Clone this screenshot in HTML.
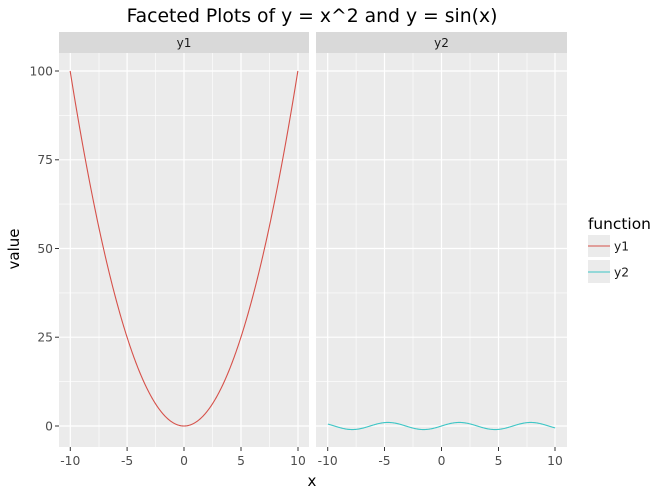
<!DOCTYPE html>
<html><head><meta charset="utf-8"><style>body{margin:0;background:#fff}svg{display:block}text{font-family:"DejaVu Sans","Liberation Sans",sans-serif}</style></head><body>
<svg width="660" height="495" xmlns="http://www.w3.org/2000/svg">
<text x="312" y="22" font-size="18.8" text-anchor="middle" fill="#000">Faceted Plots of y = x^2 and y = sin(x)</text>
<g id="p1">
<rect x="59" y="32" width="250" height="21" fill="#d9d9d9"/>
<text x="184" y="47" font-size="12" text-anchor="middle" fill="#1a1a1a">y1</text>
<rect x="59" y="53" width="250" height="394" fill="#ebebeb"/>
<g stroke="#fff" stroke-width="0.6">
<line x1="59" x2="309" y1="115.4" y2="115.4"/><line x1="59" x2="309" y1="204.1" y2="204.1"/><line x1="59" x2="309" y1="292.9" y2="292.9"/><line x1="59" x2="309" y1="381.6" y2="381.6"/>
<line y1="53" y2="447" x1="99" x2="99"/><line y1="53" y2="447" x1="155.5" x2="155.5"/><line y1="53" y2="447" x1="212.5" x2="212.5"/><line y1="53" y2="447" x1="269.5" x2="269.5"/>
</g>
<g stroke="#fff" stroke-width="1.2">
<line x1="59" x2="309" y1="71" y2="71"/><line x1="59" x2="309" y1="159.8" y2="159.8"/><line x1="59" x2="309" y1="248.5" y2="248.5"/><line x1="59" x2="309" y1="337.2" y2="337.2"/><line x1="59" x2="309" y1="426" y2="426"/>
<line y1="53" y2="447" x1="70.3" x2="70.3"/><line y1="53" y2="447" x1="127.1" x2="127.1"/><line y1="53" y2="447" x1="184" x2="184"/><line y1="53" y2="447" x1="241" x2="241"/><line y1="53" y2="447" x1="298" x2="298"/>
</g>
<path id="par" fill="none" stroke="#d6514a" stroke-width="1.1"/>
</g>
<g>
<rect x="316" y="32" width="251" height="21" fill="#d9d9d9"/>
<text x="441.5" y="47" font-size="12" text-anchor="middle" fill="#1a1a1a">y2</text>
<rect x="316" y="53" width="251" height="394" fill="#ebebeb"/>
<g stroke="#fff" stroke-width="0.6">
<line x1="316" x2="567" y1="115.4" y2="115.4"/><line x1="316" x2="567" y1="204.1" y2="204.1"/><line x1="316" x2="567" y1="292.9" y2="292.9"/><line x1="316" x2="567" y1="381.6" y2="381.6"/>
<line y1="53" y2="447" x1="356.1" x2="356.1"/><line y1="53" y2="447" x1="413" x2="413"/><line y1="53" y2="447" x1="470" x2="470"/><line y1="53" y2="447" x1="527" x2="527"/>
</g>
<g stroke="#fff" stroke-width="1.2">
<line x1="316" x2="567" y1="71" y2="71"/><line x1="316" x2="567" y1="159.8" y2="159.8"/><line x1="316" x2="567" y1="248.5" y2="248.5"/><line x1="316" x2="567" y1="337.2" y2="337.2"/><line x1="316" x2="567" y1="426" y2="426"/>
<line y1="53" y2="447" x1="327.7" x2="327.7"/><line y1="53" y2="447" x1="384.5" x2="384.5"/><line y1="53" y2="447" x1="441.5" x2="441.5"/><line y1="53" y2="447" x1="498.5" x2="498.5"/><line y1="53" y2="447" x1="555" x2="555"/>
</g>
<path id="sin" fill="none" stroke="#3ec6c6" stroke-width="1.1"/>
</g>
<g stroke="#333" stroke-width="1">
<line x1="55" x2="59" y1="71" y2="71"/><line x1="55" x2="59" y1="159.8" y2="159.8"/><line x1="55" x2="59" y1="248.5" y2="248.5"/><line x1="55" x2="59" y1="337.2" y2="337.2"/><line x1="55" x2="59" y1="426" y2="426"/>
<line y1="447" y2="451" x1="70.3" x2="70.3"/><line y1="447" y2="451" x1="127.1" x2="127.1"/><line y1="447" y2="451" x1="184" x2="184"/><line y1="447" y2="451" x1="241" x2="241"/><line y1="447" y2="451" x1="298" x2="298"/>
<line y1="447" y2="451" x1="327.7" x2="327.7"/><line y1="447" y2="451" x1="384.5" x2="384.5"/><line y1="447" y2="451" x1="441.5" x2="441.5"/><line y1="447" y2="451" x1="498.5" x2="498.5"/><line y1="447" y2="451" x1="555" x2="555"/>
</g>
<g font-size="12.3" fill="#4d4d4d" text-anchor="end">
<text x="53" y="75.5">100</text><text x="53" y="164">75</text><text x="53" y="253">50</text><text x="53" y="341.5">25</text><text x="53" y="430.5">0</text>
</g>
<g font-size="12.3" fill="#4d4d4d" text-anchor="middle">
<text x="70.3" y="465">-10</text><text x="127.1" y="465">-5</text><text x="184" y="465">0</text><text x="241" y="465">5</text><text x="298" y="465">10</text>
<text x="327.7" y="465">-10</text><text x="384.5" y="465">-5</text><text x="441.5" y="465">0</text><text x="498.5" y="465">5</text><text x="555" y="465">10</text>
</g>
<text x="312" y="486" font-size="15" text-anchor="middle">x</text>
<text transform="translate(19,249) rotate(-90)" font-size="15" text-anchor="middle">value</text>
<text x="588" y="229" font-size="15.4">function</text>
<rect x="588" y="235" width="22" height="22" fill="#ebebeb"/>
<rect x="588" y="260" width="22" height="23" fill="#ebebeb"/>
<line x1="588" x2="610" y1="246" y2="246" stroke="#d6514a" stroke-width="1.1"/>
<line x1="588" x2="610" y1="272" y2="272" stroke="#3ec6c6" stroke-width="1.1"/>
<text x="614" y="250.5" font-size="12.3" fill="#1a1a1a">y1</text>
<text x="614" y="276.5" font-size="12.3" fill="#1a1a1a">y2</text>
</svg>
<script>
var a="",b="";for(var i=0;i<=400;i++){var x=-10+i*0.05;
a+=(i?"L":"M")+(184+x*11.385).toFixed(2)+","+(426-x*x*3.55).toFixed(2);
b+=(i?"L":"M")+(441.5+x*11.365).toFixed(2)+","+(426-Math.sin(x)*3.55).toFixed(2);}
document.getElementById("par").setAttribute("d",a);document.getElementById("sin").setAttribute("d",b);
</script>
</body></html>
